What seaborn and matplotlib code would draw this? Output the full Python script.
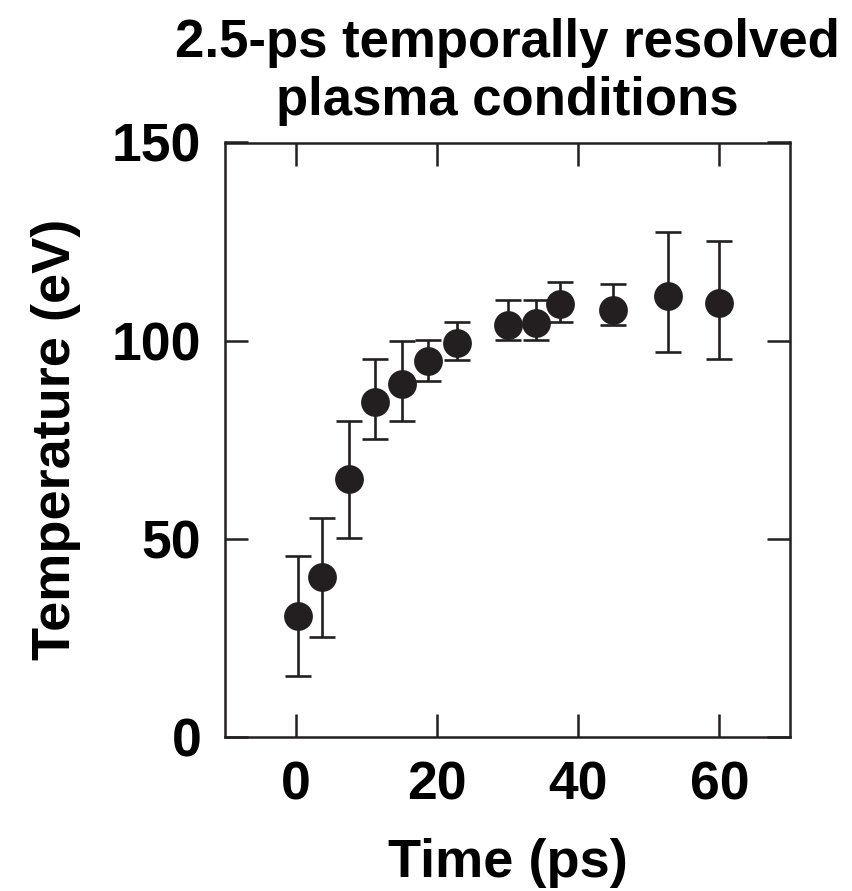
import matplotlib
matplotlib.use("Agg")
import matplotlib.pyplot as plt
import seaborn as sns
import pandas as pd

# ---- data ----
time_ps = [0.3, 3.8, 7.6, 11.2, 15.1, 18.8, 22.8, 30.1, 34.0, 37.5, 45.0, 52.7, 59.9]
temp_ev = [30.5, 40.3, 65.1, 84.5, 89.0, 94.9, 99.5, 104.0, 104.4, 109.2, 107.8, 111.3, 109.6]
err_low = [15.3, 15.1, 14.9, 9.4, 9.2, 5.1, 4.3, 3.9, 4.3, 4.4, 3.9, 14.3, 14.2]
err_high = [15.1, 14.8, 14.7, 10.8, 11.0, 5.2, 5.3, 6.2, 5.9, 5.7, 6.4, 16.1, 15.5]
x_ticks = [0, 20, 40, 60]
y_ticks = [0, 50, 100, 150]

df = pd.DataFrame({"Time (ps)": time_ps, "Temperature (eV)": temp_ev})

sns.set_theme(style="white")
plt.rcParams["font.family"] = ["Liberation Sans", "DejaVu Sans"]
plt.rcParams["font.weight"] = "bold"

ink = "#231f20"
fig = plt.figure(figsize=(8.52, 8.91), dpi=100)
ax = fig.add_axes([225 / 852, 1 - 736.7 / 891, 565 / 852, 594.2 / 891])

ax.errorbar(time_ps, temp_ev, yerr=[err_low, err_high], fmt="none",
            ecolor=ink, elinewidth=1.9, capsize=9.5, capthick=1.9, zorder=2)
sns.scatterplot(data=df, x="Time (ps)", y="Temperature (eV)", ax=ax,
                s=430, color=ink, edgecolor=ink, linewidth=0, zorder=3)

ax.set_xlim(-10, 70)
ax.set_ylim(0, 150)
ax.set_xticks(x_ticks)
ax.set_yticks(y_ticks)
ax.tick_params(axis="both", which="major", direction="in", length=16.5, width=1.8,
               color=ink, labelsize=38.5, pad=17, top=True, right=True,
               bottom=True, left=True, labelcolor="black")
for lab in ax.get_xticklabels() + ax.get_yticklabels():
    lab.set_fontweight("bold")
for sp in ax.spines.values():
    sp.set_color(ink)
    sp.set_linewidth(1.8)

ax.set_xlabel("Time (ps)", fontsize=39, fontweight="bold", color="black", labelpad=20)
ax.set_ylabel("Temperature (eV)", fontsize=39, fontweight="bold", color="black", labelpad=22)
ax.set_title("2.5-ps temporally resolved\nplasma conditions", fontsize=38,
             fontweight="bold", color="black", pad=20, linespacing=1.2)

fig.savefig("out.png", dpi=100)
